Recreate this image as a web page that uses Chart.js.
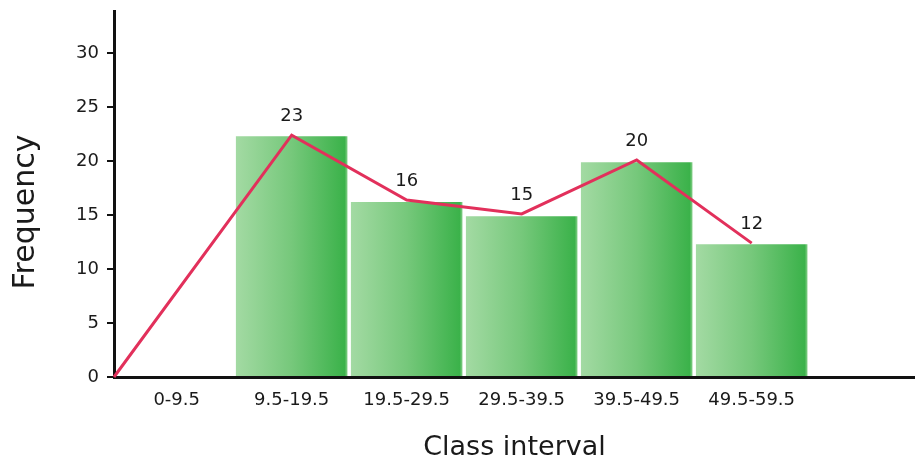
<!DOCTYPE html>
<html>
<head>
<meta charset="utf-8">
<script src="https://cdn.jsdelivr.net/npm/chart.js@4/dist/chart.umd.min.js"></script>
<style>
  html, body { margin: 0; padding: 0; background: #ffffff; }
  #wrap { width: 915px; height: 465px; position: relative; }
</style>
</head>
<body>
<div id="wrap"><canvas id="c"></canvas></div>
<script>
// ---- data ----
const categories = ['0-9.5', '9.5-19.5', '19.5-29.5', '29.5-39.5', '39.5-49.5', '49.5-59.5'];
const barIndex = [1, 2, 3, 4, 5];
const barValues = [22.3, 16.2, 14.9, 19.9, 12.3];
const polygonX = [-0.545, 1, 2, 3, 4, 5];
const polygonY = [0, 22.4, 16.4, 15.1, 20.1, 12.4];
const pointLabels = ['23', '16', '15', '20', '12'];
const yTicks = [0, 5, 10, 15, 20, 25, 30];
const xRange = [-0.545, 6.42];
const yRange = [0, 33.9];
const xTitle = 'Class interval';
const yTitle = 'Frequency';

const FONT = "'DejaVu Sans', sans-serif";
const TEXT = '#1a1a1a';
const BAR_PCT = 0.97;

function barGradient(context) {
  const chart = context.chart;
  const xs = chart.scales && chart.scales.x;
  if (!xs || !chart.chartArea || context.dataIndex === undefined) return '#6cc56f';
  const v = barIndex[context.dataIndex];
  const c = xs.getPixelForValue(v);
  const w = (xs.getPixelForValue(1) - xs.getPixelForValue(0)) * BAR_PCT;
  const g = chart.ctx.createLinearGradient(c - w / 2, 0, c + w / 2, 0);
  g.addColorStop(0, '#a3daa3');
  g.addColorStop(0.5, '#76c87b');
  g.addColorStop(0.975, '#3bb24a');
  g.addColorStop(1, '#86cf89');
  return g;
}

const labelPlugin = {
  id: 'pointLabels',
  afterDatasetsDraw(chart) {
    const meta = chart.getDatasetMeta(1);
    const ctx = chart.ctx;
    ctx.save();
    ctx.font = "18px " + FONT;
    ctx.fillStyle = TEXT;
    ctx.textAlign = 'center';
    ctx.textBaseline = 'middle';
    meta.data.forEach((pt, i) => {
      if (i === 0) return;
      ctx.fillText(pointLabels[i - 1], pt.x, pt.y - 19);
    });
    ctx.restore();
  }
};

const yTitlePlugin = {
  id: 'yTitle',
  afterDraw(chart) {
    const ctx = chart.ctx;
    const a = chart.chartArea;
    ctx.save();
    ctx.font = "30px " + FONT;
    ctx.fillStyle = TEXT;
    ctx.textAlign = 'center';
    ctx.textBaseline = 'middle';
    ctx.translate(26, (a.top + a.bottom) / 2 + 18);
    ctx.rotate(-Math.PI / 2);
    ctx.fillText(yTitle, 0, 0);
    ctx.restore();
  }
};

new Chart(document.getElementById('c'), {
  type: 'bar',
  data: {
    datasets: [
      {
        type: 'bar',
        data: barIndex.map((x, i) => ({ x: x, y: barValues[i] })),
        backgroundColor: barGradient,
        borderWidth: 0,
        barPercentage: BAR_PCT,
        categoryPercentage: 1,
        order: 1
      },
      {
        type: 'line',
        data: polygonX.map((x, i) => ({ x: x, y: polygonY[i] })),
        borderColor: '#e2305b',
        borderWidth: 3,
        pointRadius: 0,
        tension: 0,
        fill: false,
        clip: false,
        order: 0
      }
    ]
  },
  options: {
    responsive: true,
    maintainAspectRatio: false,
    animation: false,
    layout: { padding: 0 },
    plugins: {
      legend: { display: false },
      tooltip: { enabled: false }
    },
    scales: {
      x: {
        type: 'linear',
        min: xRange[0],
        max: xRange[1],
        offset: false,
        afterFit(scale) { scale.height = 88; scale.paddingLeft = 0; scale.paddingRight = 0; },
        afterBuildTicks(scale) { scale.ticks = categories.map((c, i) => ({ value: i })); },
        grid: { display: true, drawOnChartArea: false, drawTicks: false, offset: false },
        border: { display: true, color: '#111111', width: 3 },
        ticks: {
          autoSkip: false,
          maxRotation: 0,
          padding: 13,
          color: TEXT,
          font: { family: FONT, size: 18 },
          callback: (v) => categories[v] !== undefined ? categories[v] : ''
        },
        title: {
          display: true,
          text: xTitle,
          color: TEXT,
          font: { family: FONT, size: 27 },
          padding: { top: 0, bottom: 1 }
        }
      },
      y: {
        min: yRange[0],
        max: yRange[1],
        afterFit(scale) { scale.width = 114; scale.paddingTop = 11; scale.paddingBottom = 0; },
        afterBuildTicks(scale) { scale.ticks = yTicks.map(v => ({ value: v })); },
        grid: { drawOnChartArea: false, drawTicks: true, tickLength: 7, color: '#111111', lineWidth: 2 },
        border: { display: true, color: '#111111', width: 3 },
        ticks: {
          padding: 8,
          color: TEXT,
          font: { family: FONT, size: 18 }
        }
      }
    }
  },
  plugins: [labelPlugin, yTitlePlugin]
});
</script>
</body>
</html>
